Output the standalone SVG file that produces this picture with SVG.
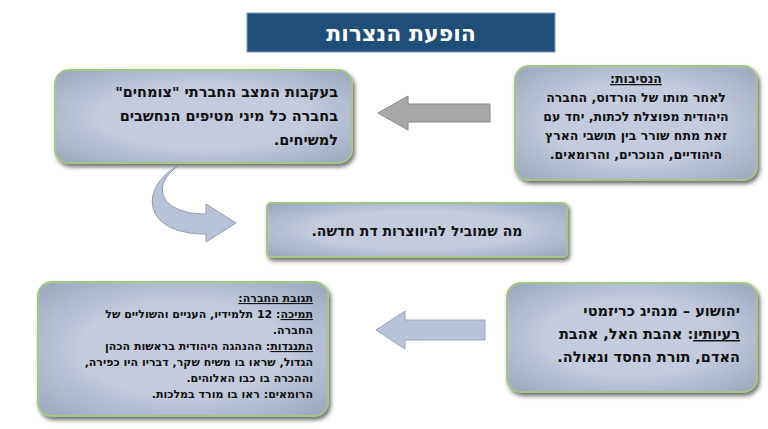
<svg xmlns="http://www.w3.org/2000/svg" width="768" height="429" viewBox="0 0 768 429">
<defs>
<radialGradient id="bg" cx="50%" cy="50%" r="70%"><stop offset="0.5" stop-color="#c3cbdc"/><stop offset="1" stop-color="#9aa6bd"/></radialGradient>
<filter id="sh" x="-10%" y="-10%" width="125%" height="130%"><feDropShadow dx="2" dy="3" stdDeviation="2" flood-color="#333" flood-opacity="0.7"/></filter>
</defs>
<style>
.box{fill:url(#bg);stroke:#a3c585;stroke-width:2;filter:url(#sh)}
text{font-family:"DejaVu Sans","Liberation Sans",sans-serif;font-weight:bold;fill:#111;direction:rtl}
.c{text-anchor:middle;font-size:12.5px}
.r{text-anchor:start;font-size:11px}
.big{text-anchor:start;font-size:14.5px}
.u{text-decoration:underline}
</style>
<rect width="768" height="429" fill="#fff"/>
<g id="title"><rect x="247" y="13" width="308" height="39" fill="#1f4e79" stroke="#7f9cc0" stroke-width="1"/><text x="401" y="41" style="text-anchor:middle;font-size:22px;fill:#fff">הופעת הנצרות</text></g>
<g id="reasons"><rect class="box" x="515" y="66" width="242" height="114" rx="14"/>
<text class="c" y="83"><tspan class="u" x="636">הנסיבות:</tspan><tspan x="636" dy="19">לאחר מותו של הורדוס, החברה</tspan><tspan x="636" dy="19">היהודית מפוצלת לכתות, יחד עם</tspan><tspan x="636" dy="19">זאת מתח שורר בין תושבי הארץ</tspan><tspan x="636" dy="19">היהודיים, הנוכרים, והרומאים.</tspan></text></g>
<g id="result"><rect class="box" x="55" y="70" width="297" height="93" rx="14"/>
<text class="big" y="97"><tspan x="338">בעקבות המצב החברתי "צומחים"</tspan><tspan x="338" dy="24">בחברה כל מיני מטיפים הנחשבים</tspan><tspan x="338" dy="24">למשיחים.</tspan></text></g>
<g id="mid"><rect class="box" x="267" y="203" width="300" height="54" rx="4"/><text x="417" y="236" style="text-anchor:middle;font-size:14px">מה שמוביל להיווצרות דת חדשה.</text></g>
<g id="jesus"><rect class="box" x="507" y="283" width="250" height="109" rx="14"/>
<text class="big" y="316"><tspan x="740">יהושוע – מנהיג כריזמטי</tspan><tspan x="740" dy="23"><tspan class="u">רעיותיו</tspan>: אהבת האל, אהבת</tspan><tspan x="740" dy="23">האדם, תורת החסד וגאולה.</tspan></text></g>
<g id="reaction"><rect class="box" x="38" y="282" width="290" height="134" rx="14"/>
<text class="r" y="302"><tspan x="313" class="u">תגובת החברה:</tspan><tspan x="313" dy="16"><tspan class="u">תמיכה</tspan>: 12 תלמידיו, העניים והשוליים של</tspan><tspan x="313" dy="16">החברה.</tspan><tspan x="313" dy="16"><tspan class="u">התנגדות</tspan>: ההנהגה היהודית בראשות הכהן</tspan><tspan x="313" dy="16">הגדול, שראו בו משיח שקר, דבריו היו כפירה,</tspan><tspan x="313" dy="16">וההכרה בו כבו האלוהים.</tspan><tspan x="313" dy="16">הרומאים: ראו בו מורד במלכות.</tspan></text></g>
<g id="connectors">
<path d="M490 104 H408 V96 L378 113 L408 130 V122 H490 Z" fill="#a8a8a8" stroke="#888"/>
<path d="M485 320 H405 V311 L376 330 L405 349 V340 H485 Z" fill="#b9c3d8" stroke="#9aa6bd"/>
<path d="M178 166 C150 186 160 214 206 214 L206 204 L236 223 L206 242 L206 234 C140 234 140 186 178 166 Z" fill="#b9c3d8" stroke="#8e9ab3"/>
</g>
</svg>
